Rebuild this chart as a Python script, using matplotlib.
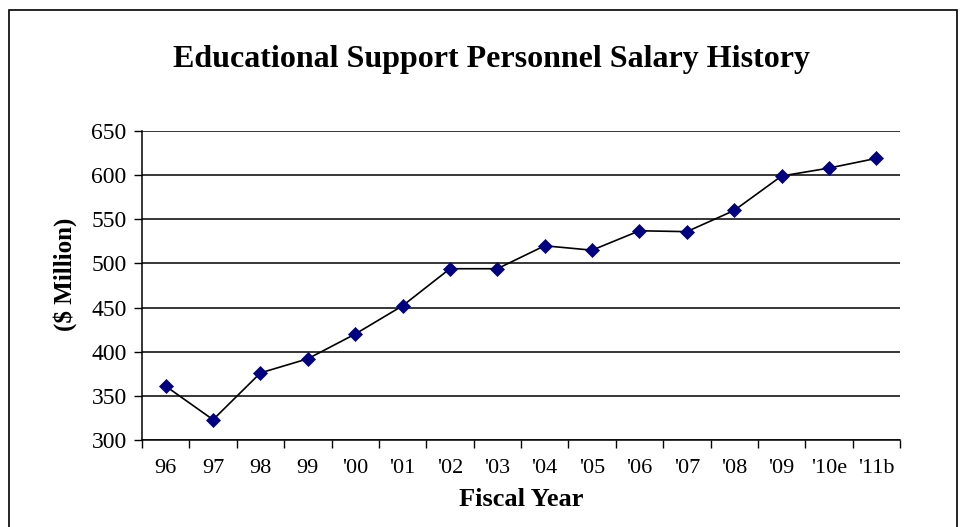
import matplotlib
matplotlib.use("Agg")
import matplotlib.pyplot as plt
import numpy as np
from matplotlib.patches import Rectangle

years = ["96", "97", "98", "99", "'00", "'01", "'02", "'03", "'04", "'05",
         "'06", "'07", "'08", "'09", "'10e", "'11b"]
salary = [361, 323, 376, 392, 420, 452, 494, 494, 520, 515,
          537, 536, 560, 599, 608, 619]
yticks = [300, 350, 400, 450, 500, 550, 600, 650]

title = "Educational Support Personnel Salary History"
xlabel = "Fiscal Year"
ylabel = "($ Million)"

plt.rcParams['font.family'] = ['Liberation Serif', 'DejaVu Serif']

W, H = 966, 527
fig = plt.figure(figsize=(W / 100, H / 100), dpi=100)
fig.patch.set_facecolor("white")

# outer chart border
fig.patches.append(Rectangle((9 / W, -0.05), (957 - 9) / W, 1 - 10 / H + 0.05,
                             transform=fig.transFigure, fill=False,
                             edgecolor="black", linewidth=1.2))

ax = fig.add_axes([142 / W, 1 - 440 / H, (900 - 142) / W, (440 - 131) / H])
x = np.arange(len(years))
ax.plot(x, salary, color="black", linewidth=1.2, zorder=3,
        marker="D", markersize=7.2, markerfacecolor="#000080",
        markeredgecolor="#000080", markeredgewidth=0.5)

ax.set_xlim(-0.5, len(years) - 0.5)
ax.set_ylim(300, 650)
ax.set_yticks(yticks)
ax.set_yticklabels([str(v) for v in yticks], fontsize=17)
ax.yaxis.grid(True, color="black", linewidth=1.1)
ax.set_axisbelow(True)

ax.set_xticks(np.arange(-0.5, len(years), 1.0))
ax.set_xticklabels([])
ax.set_xticks(x, minor=True)
ax.set_xticklabels(years, minor=True, fontsize=16)
ax.tick_params(axis="x", which="major", direction="out", length=6, width=1.0)
ax.tick_params(axis="x", which="minor", length=0, pad=14)
ax.tick_params(axis="y", direction="out", length=6, width=1.0, pad=5)

for s in ["top", "right"]:
    ax.spines[s].set_visible(False)
for s in ["left", "bottom"]:
    ax.spines[s].set_linewidth(1.1)
    ax.spines[s].set_color("black")

fig.text(492 / W, 1 - 60 / H, title, ha="center", va="center",
         fontsize=23, fontweight="bold")
fig.text(521 / W, 1 - 500 / H, xlabel, ha="center", va="center",
         fontsize=19, fontweight="bold")
fig.text(65 / W, 1 - 274 / H, ylabel, ha="center", va="center",
         rotation=90, fontsize=18, fontweight="bold")

fig.savefig("out.png", dpi=100, facecolor="white")
